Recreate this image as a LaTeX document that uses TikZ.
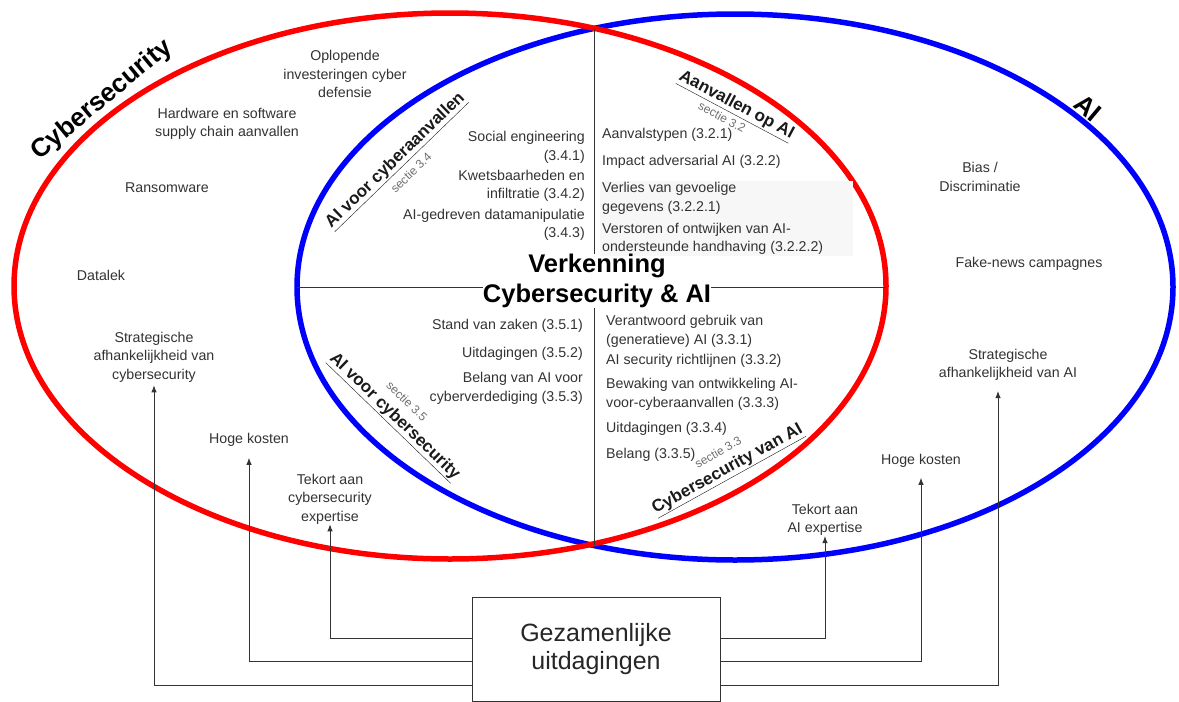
\documentclass[tikz,border=0pt]{standalone}
\usepackage{fontspec}
\setmainfont{Liberation Sans}
\usetikzlibrary{arrows.meta}
\definecolor{txt}{HTML}{333333}
\definecolor{lbl}{HTML}{1A1A1A}
\definecolor{sect}{HTML}{707070}
\definecolor{vred}{HTML}{FF0000}
\definecolor{vblue}{HTML}{0000FF}
\begin{document}
\begin{tikzpicture}[x=1pt,y=1pt,
 item/.style={inner sep=0pt, text=txt, font=\fontsize{14.2}{18.5}\selectfont},
 itemr/.style={item, align=right, anchor=east},
 iteml/.style={item, align=left, anchor=west},
 itemc/.style={item, align=center},
 seclbl/.style={inner sep=0pt, text=lbl, font=\bfseries\fontsize{17}{20}\selectfont},
 secnum/.style={inner sep=0pt, text=sect, font=\fontsize{12}{14}\selectfont},
 setlbl/.style={inner sep=0pt, text=black, font=\bfseries\fontsize{26}{30}\selectfont},
 divline/.style={draw=black!80, line width=0.9pt},
 link/.style={draw=txt, line width=0.9pt, -{Latex[length=7pt,width=5.5pt]}},
 ring/.style={line width=5.5pt},
]
\useasboundingbox (0,0) rectangle (1179,-702);
\fill[white] (0,0) rectangle (1179,-702);

% sets
\draw[ring, vblue] (735,-287) ellipse [x radius=438, y radius=273];
\draw[ring, vred] (450,-286) ellipse [x radius=436, y radius=273];
\fill[black!3] (600,-181) rectangle (853,-256);

% title and dividing lines
\node[inner sep=0pt, align=center, text=black, font=\bfseries\fontsize{25.5}{30}\selectfont] (title) at (597,-281) {Verkenning\\Cybersecurity \& AI};
\coordinate (topx) at (594,-29);
\coordinate (botx) at (594,-545);
\coordinate (leftx) at (297,-287);
\coordinate (rightx) at (886,-287);
\draw[divline] (topx) -- (topx |- title.north);
\draw[divline] (botx) -- (botx |- title.south);
\draw[divline] (leftx) -- (leftx -| title.west);
\draw[divline] (rightx) -- (rightx -| title.east);

% set labels
\node[setlbl, rotate=39.5] (cyl) at (102,-100) {Cybersecurity};
\node[setlbl, rotate=-40] (ail) at (1088,-108) {AI};

% section labels
\node[seclbl, rotate=44] (s34) at (396,-161) {\underline{AI voor cyberaanvallen}};
\node[secnum, rotate=44] (n34) at (411,-173) {sectie 3.4};
\node[seclbl, rotate=-28] (s32) at (736,-106) {\underline{Aanvallen op AI}};
\node[secnum, rotate=-28] (n32) at (722,-117) {sectie 3.2};
\node[seclbl, rotate=-44] (s35) at (394,-417) {\underline{AI voor cybersecurity}};
\node[secnum, rotate=-44] (n35) at (407,-401) {sectie 3.5};
\node[seclbl, rotate=29] (s33) at (728,-470) {\underline{Cybersecurity van AI}};
\node[secnum, rotate=30] (n33) at (718,-452) {sectie 3.3};

% upper left inner
\node[itemr] (se) at (585,-147.5) {Social engineering\\(3.4.1)};
\node[itemr] (kw) at (585,-186) {Kwetsbaarheden en\\infiltratie (3.4.2)};
\node[itemr] (ag) at (585,-225) {AI-gedreven datamanipulatie\\(3.4.3)};
% lower left inner
\node[itemr] (sz) at (583,-326) {Stand van zaken (3.5.1)};
\node[itemr] (ui1) at (583,-354) {Uitdagingen (3.5.2)};
\node[itemr] (bv) at (583,-388.5) {Belang van AI voor\\cyberverdediging (3.5.3)};
% upper right inner
\node[iteml] (at) at (602,-135) {Aanvalstypen (3.2.1)};
\node[iteml] (ia) at (602,-162) {Impact adversarial AI (3.2.2)};
\node[iteml] (vg) at (602,-198.5) {Verlies van gevoelige\\gegevens (3.2.2.1)};
\node[iteml] (vo) at (602,-239) {Verstoren of ontwijken van AI-\\ondersteunde handhaving (3.2.2.2)};
% lower right inner
\node[iteml] (vb) at (606,-331.5) {Verantwoord gebruik van\\(generatieve) AI (3.3.1)};
\node[iteml] (ar) at (606,-361) {AI security richtlijnen (3.3.2)};
\node[iteml] (bo) at (606,-394.5) {Bewaking van ontwikkeling AI-\\voor-cyberaanvallen (3.3.3)};
\node[iteml] (ui2) at (606,-429) {Uitdagingen (3.3.4)};
\node[iteml] (be) at (606,-455) {Belang (3.3.5)};

% cybersecurity only
\node[itemc] (op) at (345,-74) {Oplopende\\investeringen cyber\\defensie};
\node[itemc] (hw) at (227,-124) {Hardware en software\\supply chain aanvallen};
\node[itemc] (rw) at (167,-188) {Ransomware};
\node[itemc] (dl) at (101,-275) {Datalek};
\node[itemc] (sa1) at (154,-357) {Strategische\\afhankelijkheid van\\cybersecurity};
\node[itemc] (hk1) at (249,-440) {Hoge kosten};
\node[itemc] (te1) at (330,-499) {Tekort aan\\cybersecurity\\expertise};

% AI only
\node[itemc] (bd) at (980,-177) {Bias /\\Discriminatie};
\node[itemc] (fn) at (1029,-264) {Fake-news campagnes};
\node[itemc] (sa2) at (1008,-365) {Strategische\\afhankelijkheid van AI};
\node[itemc] (hk2) at (921,-461) {Hoge kosten};
\node[itemc] (te2) at (825,-520) {Tekort aan\\AI expertise};

% joint challenges
\node[draw=txt, line width=0.9pt, minimum width=248pt, minimum height=104pt, inner sep=0pt, align=center, text=black!85, font=\fontsize{25}{28}\selectfont] (gz) at (596,-649) {Gezamenlijke\\uitdagingen};

\draw[link] ([yshift=11pt]gz.west) -| (te1.south);
\draw[link, shorten >=11pt] ([yshift=-12pt]gz.west) -| (hk1.south);
\draw[link, shorten >=3pt] ([yshift=-36pt]gz.west) -| (sa1.south);
\draw[link] ([yshift=11pt]gz.east) -| (te2.south);
\draw[link, shorten >=10pt] ([yshift=-12pt]gz.east) -| (hk2.south);
\draw[link, shorten >=10pt] ([yshift=-36pt]gz.east) -| ([xshift=-10pt]sa2.south);
\end{tikzpicture}
\end{document}
